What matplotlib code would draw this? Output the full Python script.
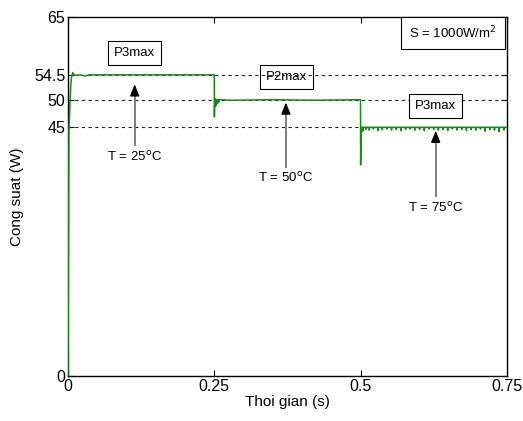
import matplotlib.pyplot as plt

plt.rcParams['font.family'] = ['Liberation Sans', 'DejaVu Sans']

# key points of the power curve (s, W)
t_start = [0.0, 0.0004, 0.0008, 0.0012, 0.0016, 0.002, 0.003, 0.004, 0.005, 0.006,
           0.008, 0.010, 0.012, 0.020, 0.030, 0.036, 0.040]
p_start = [0.0, 12.0, 28.0, 40.0, 44.0, 45.5, 48.0, 51.0, 53.0, 54.0,
           54.9, 54.6, 54.4, 54.5, 54.3, 54.5, 54.5]

t_mid = [0.2495, 0.2500, 0.2502, 0.2510, 0.2515, 0.2525, 0.2530, 0.2540, 0.2545,
         0.2555, 0.2560, 0.2570, 0.2575, 0.2590, 0.2600, 0.2800, 0.3500, 0.4200, 0.4995]
p_mid = [54.5, 54.5, 46.9, 50.2, 48.8, 50.1, 48.9, 50.0, 49.3, 50.0, 49.4,
         50.0, 49.6, 50.0, 50.0, 49.9, 50.0, 49.9, 50.0]

t_end = [0.5000, 0.5002, 0.5010, 0.5020]
p_end = [50.0, 38.2, 45.0, 44.9]

# small downward ripples on the last step
ripple_t = [0.504, 0.509, 0.515, 0.522, 0.530, 0.537, 0.545, 0.553, 0.561, 0.569,
            0.577, 0.585, 0.593, 0.601, 0.609, 0.617, 0.625, 0.633, 0.641, 0.649,
            0.657, 0.665, 0.673, 0.681, 0.689, 0.697, 0.705, 0.713, 0.721, 0.729,
            0.737, 0.745]
ripple_p = [44.3, 44.6, 44.5, 44.7, 44.4, 44.6, 44.7, 44.5, 44.6, 44.4,
            44.6, 44.7, 44.5, 44.6, 44.4, 44.7, 44.6, 44.5, 44.6, 44.4,
            44.7, 44.5, 44.6, 44.4, 44.6, 44.5, 44.7, 44.3, 44.6, 44.5,
            44.2, 44.5]

yticks = [0, 45, 50, 54.5, 65]
ytick_labels = ["0", "45", "50", "54.5", "65"]
xticks = [0, 0.25, 0.5, 0.75]
xtick_labels = ["0", "0.25", "0.5", "0.75"]


def build_curve():
    t = list(t_start) + list(t_mid) + list(t_end)
    p = list(p_start) + list(p_mid) + list(p_end)
    for rt, rp in zip(ripple_t, ripple_p):
        t += [rt - 0.0006, rt, rt + 0.0006]
        p += [45.0, rp, 45.0]
    t.append(0.75)
    p.append(45.0)
    return t, p


fig = plt.figure(figsize=(5.23, 4.21), dpi=100)
ax = fig.add_axes([0.130, 0.107, 0.839, 0.853])

t, p = build_curve()
ax.plot(t, p, color="#1a8a1a", linewidth=1.1, zorder=3)

ax.set_xlim(0, 0.75)
ax.set_ylim(0, 65)
ax.set_xticks(xticks)
ax.set_xticklabels(xtick_labels)
ax.set_yticks(yticks)
ax.set_yticklabels(ytick_labels)
ax.tick_params(direction="in", top=True, right=True, labelsize=11.5, length=4, pad=2)

for y in [45, 50, 54.5]:
    ax.axhline(y, color="0.15", linestyle=(0, (3, 3)), linewidth=0.8, zorder=2)

for s in ax.spines.values():
    s.set_linewidth(1.0)

ax.set_xlabel("Thoi gian (s)", fontsize=11, labelpad=1)
ax.set_ylabel("Cong suat (W)", fontsize=11, labelpad=7)

box_w = dict(boxstyle="square,pad=0.45", facecolor="white", edgecolor="black", linewidth=0.8)
box_n = dict(boxstyle="square,pad=0.45", facecolor="none", edgecolor="black", linewidth=0.8)

ax.text(0.114, 58.5, "P3max", ha="center", va="center", fontsize=9.5, bbox=box_w, zorder=4)
ax.text(0.374, 54.1, "P2max", ha="center", va="center", fontsize=9.5, bbox=box_n, zorder=1)
ax.text(0.6285, 48.9, "P3max", ha="center", va="center", fontsize=9.5, bbox=box_w, zorder=4)
ax.text(0.877, 0.955, "S = 1000W/m$^2$", transform=ax.transAxes, ha="center", va="center",
        fontsize=9.5, bbox=dict(boxstyle="square,pad=0.6", facecolor="white",
                                edgecolor="black", linewidth=0.8), zorder=4)

arrows = [(0.114, 53.3, 41.8, 39.6, "T = 25$^{\\rm o}$C"),
          (0.3725, 50.0, 37.8, 35.9, "T = 50$^{\\rm o}$C"),
          (0.6285, 44.9, 32.6, 30.5, "T = 75$^{\\rm o}$C")]
for x, tip, tail, ty, label in arrows:
    ax.plot([x, x], [tail, tip - 1.5], color="0.45", linewidth=1.3, zorder=4)
    ax.annotate("", xy=(x, tip), xytext=(x, tip - 2.8),
                arrowprops=dict(arrowstyle="-|>,head_length=0.7,head_width=0.28",
                                color="black", lw=1.0), zorder=5)
    ax.text(x, ty, label, ha="center", va="center", fontsize=9.5)

fig.savefig("out.png", dpi=100)
